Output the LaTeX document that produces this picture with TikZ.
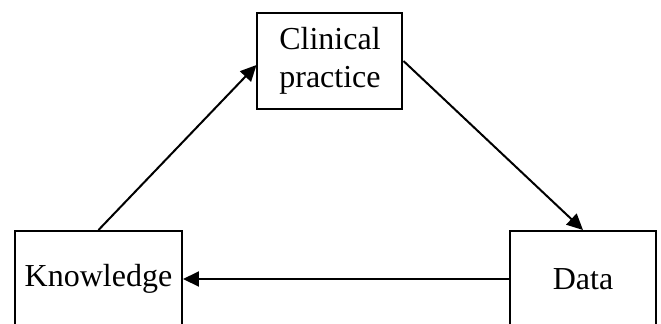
\documentclass[tikz,border=0pt]{standalone}
\usepackage{fontspec}
\setmainfont{Liberation Serif}
\usetikzlibrary{arrows.meta, positioning}
\tikzset{
  every picture/.style={line width=1pt},
  box/.style={draw=black, fill=white, align=center, inner sep=0pt, minimum height=48pt, font=\fontsize{16}{19}\selectfont},
  arrow/.style={-{Stealth[length=8pt, width=7.5pt, inset=0pt]}, draw=black, line width=1pt},
}
\begin{document}
\begin{tikzpicture}[x=0.5pt, y=-0.5pt]
  \clip (0,0) rectangle (661,323);
  \useasboundingbox (0,0) rectangle (661,323);
  \node[box, minimum width=72.5pt] (clin) at (330,61) {Clinical\\practice};
  \node[box, minimum width=83.5pt] (know) at (98.5,279) {Knowledge};
  \node[box, minimum width=73pt] (data) at (583,279) {Data};
  \draw[arrow] (know.north) -- ([yshift=-2pt]clin.west);
  \draw[arrow] (clin.east) -- (data.north);
  \draw[arrow] (data.west) -- (know.east);
\end{tikzpicture}
\end{document}
